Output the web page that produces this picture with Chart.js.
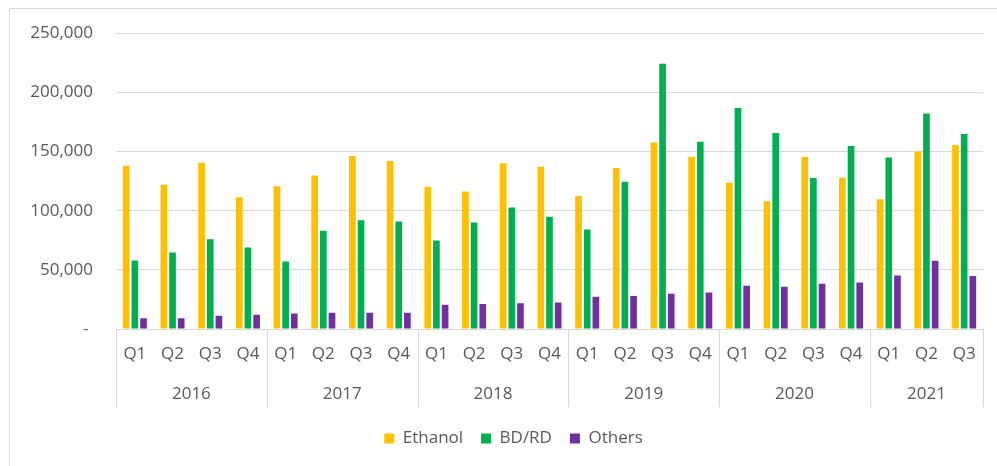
<!DOCTYPE html>
<html>
<head>
<meta charset="utf-8">
<script src="https://cdn.jsdelivr.net/npm/chart.js@4/dist/chart.umd.min.js"></script>
<style>
  html, body { margin: 0; padding: 0; background: #fff; }
  #wrap { width: 997px; height: 466px; position: relative; }
</style>
</head>
<body>
<div id="wrap"><canvas id="myChart"></canvas></div>
<script>
// categories
const quarters = ['Q1', 'Q2', 'Q3', 'Q4', 'Q1', 'Q2', 'Q3', 'Q4', 'Q1', 'Q2', 'Q3', 'Q4',
  'Q1', 'Q2', 'Q3', 'Q4', 'Q1', 'Q2', 'Q3', 'Q4', 'Q1', 'Q2', 'Q3'];
const years = ['2016', '2017', '2018', '2019', '2020', '2021'];
const quartersPerYear = [4, 4, 4, 4, 4, 3];

// series values
const ethanol = [138000, 122000, 140500, 111300, 120600, 129800, 146200, 142000,
  120300, 116300, 140000, 137200, 112500, 136100, 157700, 145600,
  123700, 107900, 145400, 127900, 109600, 150100, 155500];
const bdrd = [57900, 64700, 75900, 68900, 57100, 83000, 91900, 90800,
  74800, 90000, 102600, 94800, 84100, 124500, 224200, 158300,
  186700, 165600, 127600, 154600, 145000, 182100, 164800];
const others = [9000, 9000, 11300, 12100, 13000, 13800, 13800, 13800,
  20600, 21100, 21700, 22500, 27300, 27800, 29800, 30900,
  36600, 35700, 38300, 39400, 45300, 57700, 44700];

// y axis
const yMax = 250000;
const yStep = 50000;

const textColor = '#595959';
Chart.defaults.font.family = "'Open Sans', sans-serif";
Chart.defaults.font.size = 17;
Chart.defaults.color = textColor;

// outer frame + year groups under the quarter labels
const yearGroups = {
  id: 'yearGroups',
  afterLayout(chart) {
    // nudge the legend a bit right, like the original
    chart.legend.left += 9;
    chart.legend.right += 9;
  },
  beforeDraw(chart) {
    const ctx = chart.ctx;
    ctx.save();
    ctx.strokeStyle = '#d9d9d9';
    ctx.lineWidth = 1;
    ctx.strokeRect(9.5, 8.5, 1010, 480);
    ctx.restore();
  },
  afterDraw(chart) {
    const ctx = chart.ctx;
    const x = chart.scales.x;
    const area = chart.chartArea;
    const w = x.width / quarters.length;
    ctx.save();
    ctx.strokeStyle = '#d9d9d9';
    ctx.lineWidth = 1;
    ctx.fillStyle = textColor;
    ctx.font = "17px 'Open Sans', sans-serif";
    ctx.textAlign = 'center';
    ctx.textBaseline = 'middle';
    let start = 0;
    years.forEach(function(year, i) {
      const n = quartersPerYear[i];
      const left = x.getPixelForValue(start) - w / 2;
      const right = x.getPixelForValue(start + n - 1) + w / 2;
      [left, right].forEach(function(px) {
        const p = Math.round(px) + 0.5;
        ctx.beginPath();
        ctx.moveTo(p, area.bottom);
        ctx.lineTo(p, area.bottom + 78);
        ctx.stroke();
      });
      ctx.fillText(year, (left + right) / 2, area.bottom + 65);
      start += n;
    });
    ctx.restore();
  }
};

const data = {
  labels: quarters,
  datasets: [
    { label: 'Ethanol', data: ethanol, backgroundColor: '#FFC000' },
    { label: 'BD/RD', data: bdrd, backgroundColor: '#00B050' },
    { label: 'Others', data: others, backgroundColor: '#7030A0' }
  ]
};

const config = {
  type: 'bar',
  data,
  options: {
    responsive: true,
    maintainAspectRatio: false,
    animation: false,
    datasets: {
      bar: { categoryPercentage: 0.69, barPercentage: 0.77 }
    },
    layout: { padding: { top: 32, left: 26, right: 14, bottom: 9 } },
    scales: {
      x: {
        grid: { display: false },
        border: { display: false },
        ticks: { padding: 7, maxRotation: 0, autoSkip: false },
        afterFit: function(s) { s.height = 83; }
      },
      y: {
        min: 0,
        max: yMax,
        grid: { color: '#d9d9d9', drawTicks: false },
        border: { display: false },
        ticks: {
          stepSize: yStep,
          padding: 23,
          callback: function(v) { return v === 0 ? '- ' : v.toLocaleString('en-US'); }
        },
        afterFit: function(s) { s.width = 90; }
      }
    },
    plugins: {
      legend: {
        position: 'bottom',
        labels: { boxWidth: 10, boxHeight: 10, padding: 18 }
      },
      tooltip: { enabled: false }
    }
  },
  plugins: [yearGroups]
};

const myChart = new Chart(document.getElementById('myChart'), config);
</script>
</body>
</html>
